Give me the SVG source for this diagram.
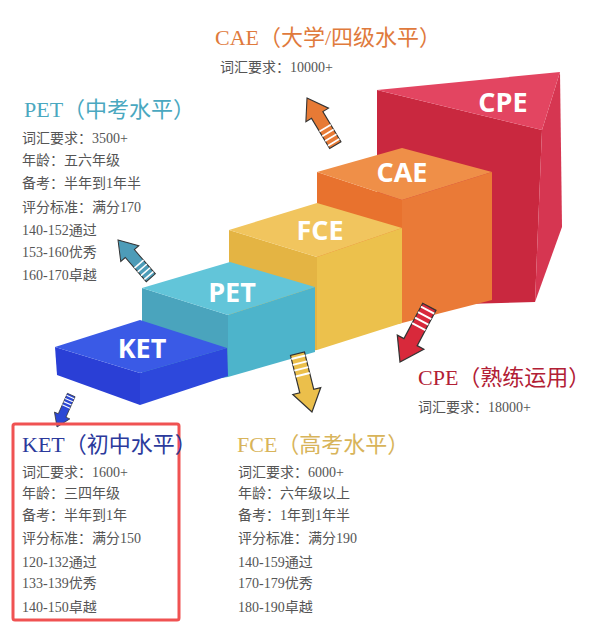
<svg xmlns="http://www.w3.org/2000/svg" width="606" height="640" viewBox="0 0 606 640">
<style>
.t{font-family:"Liberation Serif","Noto Sans CJK SC",serif;font-size:22px}
.l{font-family:"Liberation Serif","Noto Sans CJK SC",serif;font-size:14px;fill:#555}
.b{font-family:"Open Sans","Liberation Sans",sans-serif;font-weight:bold;font-size:27px;fill:#fff;text-anchor:middle}
.ar{stroke:#333;stroke-width:1}
</style>
<defs>
<g id="arrow">
<path class="ar" d="M0,0 L12,18 L6,18 L6,50 L-6,50 L-6,18 L-12,18 Z"/>
<g stroke="#fff" stroke-width="1.6"><line x1="-6" y1="32" x2="6" y2="32"/><line x1="-6" y1="37" x2="6" y2="37"/><line x1="-6" y1="42" x2="6" y2="42"/><line x1="-6" y1="47" x2="6" y2="47"/></g>
</g>
</defs>
<rect width="606" height="640" fill="#fff"/>
<g id="CPE">
<polygon points="377,90 542,130 535,302 430,305 377,200" fill="#c9283f"/>
<polygon points="542,130 560,72 562,227 535,302" fill="#d63651"/>
<polygon points="377,90 560,72 542,130" fill="#e34561"/>
<text class="b" x="503" y="112">CPE</text>
</g>
<g id="CAE">
<polygon points="317,172 402,200 402,323 317,340" fill="#e8722e"/>
<polygon points="402,200 492,172 492,300 402,323" fill="#ea7a37"/>
<polygon points="317,172 402,148 492,172 402,200" fill="#ef8f48"/>
<text class="b" x="402" y="182">CAE</text>
</g>
<g id="FCE">
<polygon points="229,230 317,257 317,350 229,360" fill="#e4b443"/>
<polygon points="317,257 402,228 402,323 317,350" fill="#ecc14c"/>
<polygon points="229,230 317,203 402,228 317,257" fill="#f1c55e"/>
<text class="b" x="320" y="240">FCE</text>
</g>
<g id="PET">
<polygon points="142,288 228,315 228,377 142,390" fill="#4aa4bd"/>
<polygon points="228,315 315,287 315,352 228,377" fill="#4db4cb"/>
<polygon points="142,288 230,262 315,287 228,315" fill="#62c5d9"/>
<text class="b" x="232" y="302">PET</text>
</g>
<g id="KET">
<polygon points="55,347 140,373 140,405 57,375" fill="#2a3fd6"/>
<polygon points="140,373 227,348 228,376 140,405" fill="#2d48dc"/>
<polygon points="55,347 140,320 227,348 140,373" fill="#3a5ae6"/>
<text class="b" x="142" y="358">KET</text>
</g>
<g id="connectors">
<use href="#arrow" fill="#e77a35" transform="translate(307,98) rotate(-31) scale(1.1)"/>
<use href="#arrow" fill="#4d9cb8" transform="translate(118,240) rotate(-41) scale(1)"/>
<use href="#arrow" fill="#2b47d4" transform="translate(57,427) rotate(-156) scale(0.7)"/>
<use href="#arrow" fill="#ebbf4b" transform="translate(312,412) rotate(166) scale(1.2)"/>
<use href="#arrow" fill="#d8293b" transform="translate(400,362) rotate(-152) scale(1.25)"/>
</g>
<g id="label-CAE">
<text class="t" x="215" y="45" fill="#e07a3c">CAE（大学/四级水平）</text>
<text class="l" x="220" y="72">词汇要求：10000+</text>
</g>
<g id="label-PET">
<text class="t" x="24" y="117" fill="#4aa8c0">PET（中考水平）</text>
<text class="l" x="22" y="143">词汇要求：3500+</text>
<text class="l" x="22" y="165">年龄：五六年级</text>
<text class="l" x="22" y="188">备考：半年到1年半</text>
<text class="l" x="22" y="212">评分标准：满分170</text>
<text class="l" x="22" y="235">140-152通过</text>
<text class="l" x="22" y="257">153-160优秀</text>
<text class="l" x="22" y="280">160-170卓越</text>
</g>
<g id="label-KET">
<rect x="13" y="424" width="166" height="196" rx="2" fill="none" stroke="#f05252" stroke-width="3"/>
<text class="t" x="22" y="452" fill="#2b3a9c">KET（初中水平）</text>
<text class="l" x="22" y="477">词汇要求：1600+</text>
<text class="l" x="22" y="498">年龄：三四年级</text>
<text class="l" x="22" y="520">备考：半年到1年</text>
<text class="l" x="22" y="543">评分标准：满分150</text>
<text class="l" x="22" y="567">120-132通过</text>
<text class="l" x="22" y="588">133-139优秀</text>
<text class="l" x="22" y="612">140-150卓越</text>
</g>
<g id="label-FCE">
<text class="t" x="237" y="452" fill="#d8b45a">FCE（高考水平）</text>
<text class="l" x="238" y="477">词汇要求：6000+</text>
<text class="l" x="238" y="498">年龄：六年级以上</text>
<text class="l" x="238" y="520">备考：1年到1年半</text>
<text class="l" x="238" y="543">评分标准：满分190</text>
<text class="l" x="238" y="567">140-159通过</text>
<text class="l" x="238" y="588">170-179优秀</text>
<text class="l" x="238" y="612">180-190卓越</text>
</g>
<g id="label-CPE">
<text class="t" x="418" y="385" fill="#b22035">CPE（熟练运用）</text>
<text class="l" x="418" y="412">词汇要求：18000+</text>
</g>
</svg>
